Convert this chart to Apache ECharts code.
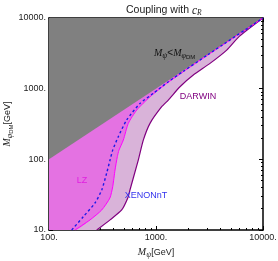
<!DOCTYPE html>
<html><head><meta charset="utf-8">
<script src="https://cdn.jsdelivr.net/npm/echarts@6/dist/echarts.min.js"></script>
<style>html,body{margin:0;padding:0;background:#fff}#c{width:278px;height:261px}</style>
</head><body><div id="c"></div>
<script>
// ---- data ----
const xTicks = [100, 1000, 10000];
const yTicks = [10, 100, 1000, 10000];
const xMinor = [200,300,400,500,600,700,800,900,2000,3000,4000,5000,6000,7000,8000,9000];
const yMinor = [20,30,40,50,60,70,80,90,200,300,400,500,600,700,800,900,2000,3000,4000,5000,6000,7000,8000,9000];
const diagX = [100, 10000];
const diagY = [100, 10000];
const lzX = [175, 242, 311, 371, 394, 414, 435, 451, 495, 551, 660, 879, 1259, 1800, 3000, 10000];
const lzY = [10, 13.9, 19.2, 28.4, 41, 70.6, 109, 135, 187, 323, 498, 768, 1189, 1740, 2950, 10000];
const xenonX = [163, 209, 269, 311, 346, 372, 394, 444, 532, 709, 944, 1303, 1800, 3000, 10000];
const xenonY = [10, 15.4, 24.1, 36.8, 64, 97.7, 135, 209, 360, 619, 859, 1253, 1760, 2970, 10000];
const darwinX = [279, 372, 478, 551, 571, 683, 761, 879, 1130, 1303, 1675, 2232, 3197, 4579, 6000, 10000];
const darwinY = [10, 13.9, 19.2, 29.6, 36.8, 97.7, 187, 323, 555, 690, 1064, 1557, 2280, 3516, 5500, 10000];

const zip = (xs, ys) => xs.map((x, i) => [x, ys[i]]);
const lz = zip(lzX, lzY), xenon = zip(xenonX, xenonY), darwin = zip(darwinX, darwinY);
const diag = zip(diagX, diagY);
const xMin = xTicks[0], xMax = xTicks[xTicks.length-1], yMin = yTicks[0], yMax = yTicks[yTicks.length-1];

const SM = 0.2;
// filled region: from the curve up to the top of the plot (later layers cover the rest)
function areaSeries(data, color, smooth) {
  return {
    type: 'line', xAxisIndex: 0, yAxisIndex: 0, data: data, showSymbol: false, symbol: 'none', silent: true,
    smooth: smooth, lineStyle: { width: 0, opacity: 0 },
    areaStyle: { color: color, opacity: 1, origin: 'end' }, clip: true
  };
}
function lineSeries(data, color, width, dash) {
  return {
    type: 'line', xAxisIndex: 0, yAxisIndex: 0, data: data, showSymbol: false, symbol: 'none', silent: true,
    smooth: SM, clip: true,
    lineStyle: { color: color, width: width, type: dash || 'solid' }
  };
}

const labelStyle = { fontFamily: 'Liberation Sans, Arial, sans-serif', fontSize: 9, color: '#222' };
const nameRich = {
  i: { fontFamily: 'Liberation Serif, serif', fontStyle: 'italic', fontSize: 10, color: '#222' },
  s: { fontFamily: 'Liberation Serif, serif', fontStyle: 'italic', fontSize: 8, color: '#222', padding: [5,0,0,0] },
  ss: { fontFamily: 'Liberation Sans, sans-serif', fontSize: 6, color: '#222', padding: [7,0,0,0] },
  n: { fontFamily: 'Liberation Sans, sans-serif', fontSize: 9, color: '#222' }
};

function mkAxis(pos, ticks, minor, min, max, main, extra) {
  const common = { type: 'log', logBase: 10, min: min, max: max, position: pos, splitLine: { show: false }, silent: true };
  const major = Object.assign({}, common, {
    axisLine: { show: true, lineStyle: { color: '#000', width: 1.5 } },
    axisTick: { show: true, inside: true, length: 4, customValues: ticks, lineStyle: { color: '#000', width: 1 } },
    axisLabel: main ? Object.assign({ show: true, customValues: ticks, formatter: v => v + '.', margin: 3 }, labelStyle) : { show: false }
  }, extra || {});
  const mn = Object.assign({}, common, {
    axisLine: { show: false },
    axisTick: { show: true, inside: true, length: 2, customValues: minor, lineStyle: { color: '#000', width: 1 } },
    axisLabel: { show: false }
  });
  return [major, mn];
}

const xAxes = mkAxis('bottom', xTicks, xMinor, xMin, xMax, true, {
  name: '{i|M}{s|ψ}{n|[GeV]}', nameLocation: 'middle', nameGap: 16, nameMoveOverlap: false, nameTextStyle: { rich: nameRich }
}).concat(mkAxis('top', xTicks, xMinor, xMin, xMax, false));
const yAxes = mkAxis('left', yTicks, yMinor, yMin, yMax, true, {
  name: '{i|M}{s|φ}{ss|DM}{n|[GeV]}', nameLocation: 'middle', nameGap: 35, nameMoveOverlap: false, nameTextStyle: { rich: nameRich }
}).concat(mkAxis('right', yTicks, yMinor, yMin, yMax, false));

const chart = echarts.init(document.getElementById('c'), null, { renderer: 'canvas' });
chart.setOption({
  animation: false,
  backgroundColor: '#fff',
  title: {
    text: 'Coupling with {i|c}{s|R}', left: 121, top: -1,
    textStyle: { fontFamily: 'Liberation Sans, Arial, sans-serif', fontSize: 10.5, fontWeight: 'normal', color: '#222',
      rich: {
        i: { fontFamily: 'Liberation Serif, serif', fontStyle: 'italic', fontSize: 11.5, color: '#222' },
        s: { fontFamily: 'Liberation Serif, serif', fontStyle: 'italic', fontSize: 7.5, color: '#222', padding: [5,0,0,0] }
      } }
  },
  grid: { left: 49, top: 18, right: 15, bottom: 31, containLabel: false, outerBoundsMode: 'none' },
  xAxis: xAxes,
  yAxis: yAxes,
  series: [
    areaSeries([[xMin, yMin]].concat(darwin), '#d9b3d9', SM),
    areaSeries([[xMin, yMin]].concat(lz), '#e472e2', SM),
    areaSeries(diag, '#808080', false),
    lineSeries(darwin, '#800080', 1.2),
    lineSeries(lz, '#ff00ff', 1),
    lineSeries(xenon, '#1a1ae6', 1.4, [2.5, 2.5])
  ],
  graphic: [
    { type: 'text', x: 82, y: 181, z: 100, style: { text: 'LZ', fill: '#e020e0', font: '9px Liberation Sans, Arial, sans-serif', align: 'center', verticalAlign: 'middle' } },
    { type: 'text', x: 146, y: 196, z: 100, style: { text: 'XENONnT', fill: '#3333ee', font: '9px Liberation Sans, Arial, sans-serif', align: 'center', verticalAlign: 'middle' } },
    { type: 'text', x: 198, y: 97, z: 100, style: { text: 'DARWIN', fill: '#800080', font: '9px Liberation Sans, Arial, sans-serif', align: 'center', verticalAlign: 'middle' } },
    { type: 'text', x: 154, y: 47, z: 100, style: {
      text: '{i|M}{s|ψ}{n|<}{i|M}{s|φ}{ss|DM}',
      rich: {
        i: { fontFamily: 'Liberation Serif, serif', fontStyle: 'italic', fontSize: 10, fill: '#111' },
        s: { fontFamily: 'Liberation Serif, serif', fontStyle: 'italic', fontSize: 8, fill: '#111', padding: [5,0,0,0] },
        ss: { fontFamily: 'Liberation Sans, sans-serif', fontSize: 6, fill: '#111', padding: [7,0,0,0] },
        n: { fontFamily: 'Liberation Sans, sans-serif', fontSize: 10, fill: '#111' }
      } } }
  ]
});
</script></body></html>
